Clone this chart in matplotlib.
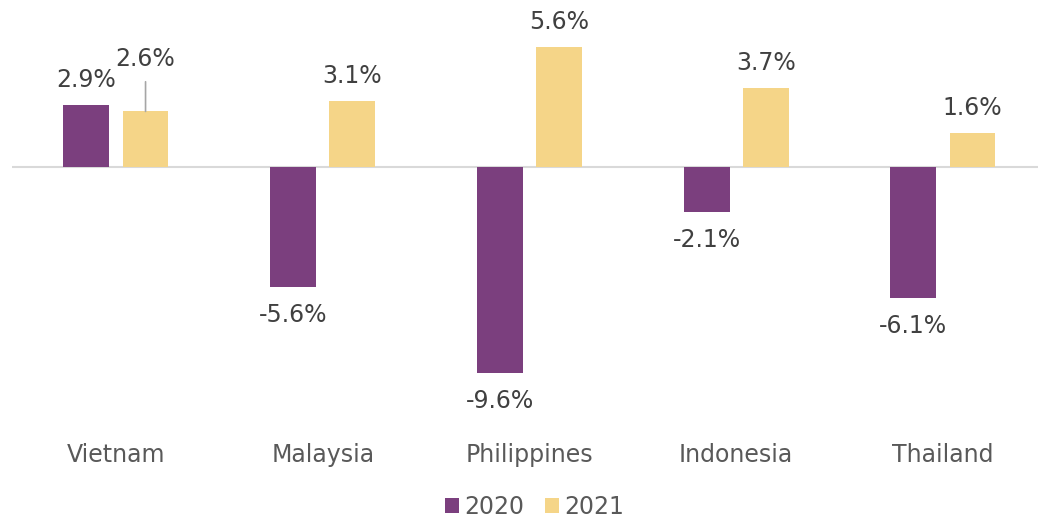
import matplotlib.pyplot as plt
import numpy as np

plt.rcParams['font.family'] = ['DejaVu Sans']

countries = ['Vietnam', 'Malaysia', 'Philippines', 'Indonesia', 'Thailand']
growth_2020 = [2.9, -5.6, -9.6, -2.1, -6.1]
growth_2021 = [2.6, 3.1, 5.6, 3.7, 1.6]

purple = '#7B3F7E'
yellow = '#F5D588'
label_color = '#404040'

fig = plt.figure(figsize=(10.38, 5.19), dpi=100)
ax = fig.add_axes([12 / 1038, 99 / 519, 1026 / 1038, 420 / 519])

x = np.arange(len(countries))
w = 0.222
off = 0.143
b1 = ax.bar(x - off, growth_2020, w, color=purple, label='2020')
b2 = ax.bar(x + off, growth_2021, w, color=yellow, label='2021')

ax.set_xlim(-0.503, 4.46)
ax.set_ylim(-11.8, 7.8)
ax.axhline(0, color='#D9D9D9', lw=1.5, zorder=0)

fs = 17
for bars in (b1, b2):
    for i, bar in enumerate(bars):
        v = bar.get_height()
        cx = bar.get_x() + bar.get_width() / 2
        if bars is b2 and i == 0:
            # Vietnam 2021 label lifted with a leader line
            ax.annotate(f'{v:.1f}%', xy=(cx, v), xytext=(0, 38), textcoords='offset points',
                        ha='center', va='center', fontsize=fs, color=label_color,
                        arrowprops=dict(arrowstyle='-', color='#A6A6A6', lw=1.2,
                                        shrinkA=6, shrinkB=0))
            continue
        dy = 18 if v > 0 else -20
        ax.annotate(f'{v:.1f}%', xy=(cx, v), xytext=(0, dy), textcoords='offset points',
                    ha='center', va='center', fontsize=fs, color=label_color)

for i, c in enumerate(countries):
    ax.text(i, -13.45, c, ha='center', va='center', fontsize=fs, color='#595959',
            clip_on=False)

for s in ax.spines.values():
    s.set_visible(False)
ax.set_xticks([])
ax.set_yticks([])

fig.legend(handles=[b1, b2], loc='center', bbox_to_anchor=(0.515, 12 / 519),
           ncol=2, frameon=False, fontsize=fs, labelcolor='#595959',
           handlelength=0.6, handleheight=0.6, handletextpad=0.25, columnspacing=0.85)

fig.savefig('out.png', dpi=100)
